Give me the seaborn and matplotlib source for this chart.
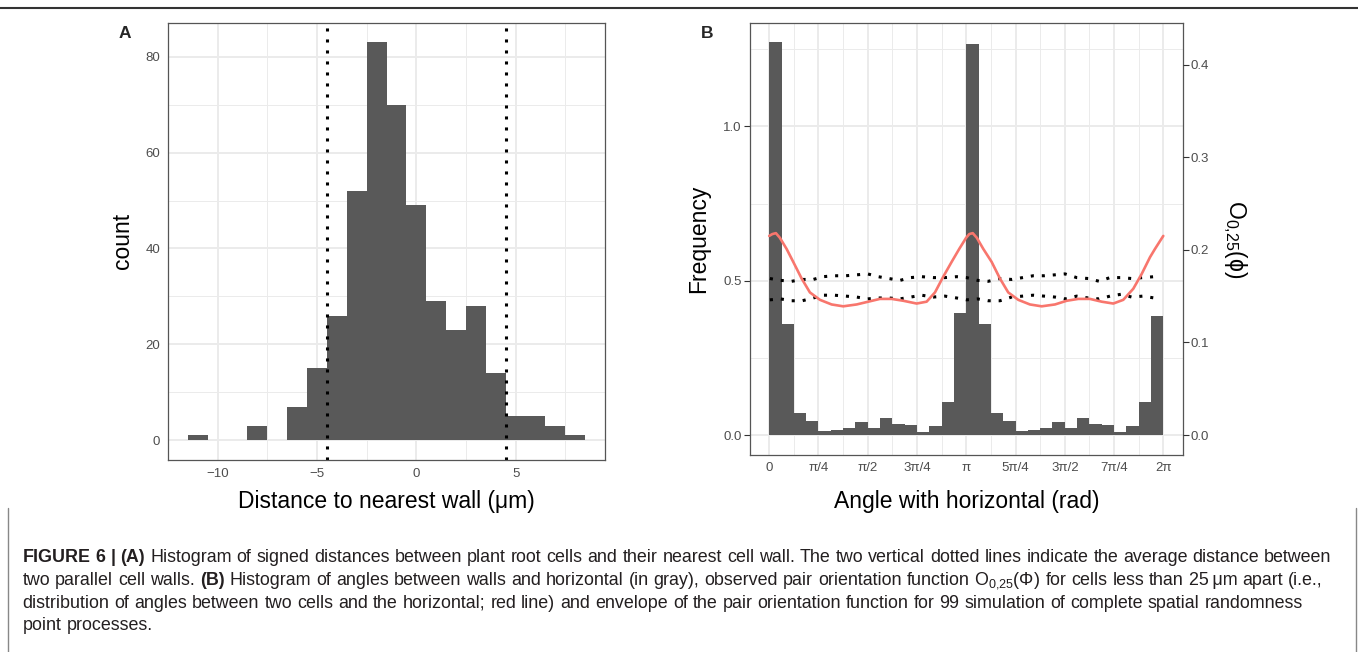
import numpy as np
import pandas as pd
import matplotlib
matplotlib.use("Agg")
import matplotlib.pyplot as plt
import seaborn as sns
from matplotlib.lines import Line2D

# Panel A: signed distance to nearest wall, unit bins centred on integers
dist_centres = [-11, -10, -9, -8, -7, -6, -5, -4, -3, -2, -1, 0, 1, 2, 3, 4, 5, 6, 7, 8]
dist_counts = [1, 0, 0, 3, 0, 7, 15, 26, 52, 83, 70, 49, 29, 23, 28, 14, 5, 5, 3, 1]
wall_spacing = [-4.52, 4.52]

# Panel B: wall angle histogram (32 bins over 0..2pi)
wall_freq = [1.272, 0.359, 0.072, 0.045, 0.013, 0.015, 0.024, 0.042,
             0.023, 0.055, 0.036, 0.032, 0.011, 0.028, 0.108, 0.394,
             1.267, 0.359, 0.072, 0.045, 0.013, 0.015, 0.024, 0.042,
             0.023, 0.055, 0.036, 0.032, 0.011, 0.028, 0.108, 0.387]

# observed pair orientation function O_0,25 (right axis units)
pof_angle = [0.000, 0.050, 0.107, 0.170, 0.277, 0.383, 0.517, 0.649, 0.809, 0.995,
             1.180, 1.394, 1.579, 1.765, 1.952, 2.137, 2.351, 2.510, 2.643, 2.775,
             2.909, 3.030, 3.140, 3.190, 3.245, 3.310, 3.413, 3.546, 3.679, 3.811,
             3.971, 4.157, 4.344, 4.556, 4.743, 4.928, 5.114, 5.301, 5.486, 5.645,
             5.805, 5.939, 6.071, 6.151, 6.283]
pof_value = [0.215, 0.217, 0.218, 0.213, 0.201, 0.187, 0.169, 0.154, 0.146, 0.141,
             0.139, 0.141, 0.144, 0.147, 0.147, 0.145, 0.142, 0.144, 0.154, 0.171,
             0.187, 0.201, 0.213, 0.217, 0.218, 0.213, 0.201, 0.187, 0.169, 0.154,
             0.146, 0.141, 0.139, 0.141, 0.145, 0.147, 0.147, 0.144, 0.142, 0.146,
             0.158, 0.174, 0.192, 0.201, 0.215]

# CSR simulation envelope
env_angle = [0.011, 0.181, 0.357, 0.527, 0.702, 0.861, 1.037, 1.223, 1.394, 1.569,
             1.738, 1.909, 2.084, 2.255, 2.430, 2.615, 2.802, 2.988, 3.148, 3.323,
             3.492, 3.679, 3.866, 4.041, 4.210, 4.385, 4.556, 4.716, 4.902, 5.087,
             5.262, 5.433, 5.609, 5.779, 5.955, 6.140]
env_upper = [0.169, 0.167, 0.166, 0.168, 0.168, 0.171, 0.172, 0.172, 0.173, 0.174,
             0.171, 0.169, 0.167, 0.170, 0.171, 0.170, 0.170, 0.171, 0.170, 0.167,
             0.166, 0.169, 0.168, 0.170, 0.172, 0.172, 0.173, 0.174, 0.170, 0.169,
             0.166, 0.170, 0.170, 0.169, 0.170, 0.171]
env_lower = [0.146, 0.147, 0.145, 0.145, 0.148, 0.151, 0.151, 0.150, 0.149, 0.147,
             0.148, 0.148, 0.147, 0.149, 0.151, 0.149, 0.150, 0.148, 0.146, 0.147,
             0.145, 0.145, 0.149, 0.150, 0.151, 0.150, 0.149, 0.147, 0.150, 0.148,
             0.147, 0.150, 0.152, 0.149, 0.150, 0.148]

pi_labels = ["0", "π/4", "π/2", "3π/4", "π", "5π/4", "3π/2", "7π/4", "2π"]

W, H = 1358, 652
BAR = "#595959"
GRID = "#EBEBEB"
TXT = "#4D4D4D"

sns.set_theme(style="white")
plt.rcParams["font.family"] = ["Liberation Sans", "DejaVu Sans"]
plt.rcParams["mathtext.fontset"] = "custom"
plt.rcParams["mathtext.rm"] = "Liberation Sans"
plt.rcParams["mathtext.it"] = "Liberation Sans:italic"

fig = plt.figure(figsize=(W / 100, H / 100), dpi=100, facecolor="white")


def px_axes(l, t, r, b):
    return fig.add_axes([l / W, 1 - b / H, (r - l) / W, (b - t) / H])


def style_axes(ax):
    ax.set_axisbelow(True)
    ax.grid(True, which="major", color=GRID, lw=1.4)
    ax.grid(True, which="minor", color=GRID, lw=0.7)
    for s in ax.spines.values():
        s.set_color("#555555")
        s.set_linewidth(0.9)
    ax.tick_params(which="major", length=4, width=0.8, color="#333333",
                   labelcolor=TXT, labelsize=9.5, pad=1.5)
    ax.tick_params(which="minor", length=0)


# ---- A ----
dist_df = pd.DataFrame({"dist": dist_centres, "n": dist_counts})
axA = px_axes(168, 22.5, 605, 460)
sns.histplot(data=dist_df, x="dist", weights="n",
             bins=[b - 0.5 for b in range(-11, 10)],
             color=BAR, alpha=1, linewidth=0, ax=axA)
for v in wall_spacing:
    axA.axvline(v, color="black", lw=2.2, linestyle=(0, (1, 2.6)))
axA.set_xlim(-12.5, 9.5)
axA.set_ylim(-4.15, 87.15)
axA.set_xticks([-10, -5, 0, 5])
axA.set_xticks([-7.5, -2.5, 2.5, 7.5], minor=True)
axA.set_yticks([0, 20, 40, 60, 80])
axA.set_yticks([10, 30, 50, 70], minor=True)
style_axes(axA)
axA.set_xlabel("Distance to nearest wall (μm)", fontsize=16.5, color="black")
axA.set_ylabel("count", fontsize=16.5, color="black")
axA.xaxis.set_label_coords(0.5, (460 - 501.5) / 437.5)
axA.xaxis.label.set_va("center")
axA.yaxis.set_label_coords((122 - 168) / 437, 0.5)
axA.yaxis.label.set_va("center")

# ---- B ----
edges = [k * np.pi / 16 for k in range(33)]
ang_df = pd.DataFrame({"angle": [(k + 0.5) * np.pi / 16 for k in range(32)],
                       "freq": wall_freq})
axB = px_axes(749.5, 22.7, 1183, 454.7)
sns.histplot(data=ang_df, x="angle", weights="freq", bins=edges,
             color=BAR, alpha=1, linewidth=0, ax=axB)
top = max(wall_freq)
axB.set_xlim(-0.1 * np.pi, 2.1 * np.pi)
axB.set_ylim(-0.05 * top, 1.05 * top)
axB.set_xticks(np.arange(9) * np.pi / 4)
axB.set_xticklabels(pi_labels)
axB.set_xticks(np.arange(1, 16, 2) * np.pi / 8, minor=True)
axB.set_yticks([0, 0.5, 1.0])
axB.set_yticklabels(["0.0", "0.5", "1.0"])
axB.set_yticks([0.25, 0.75, 1.25], minor=True)
style_axes(axB)
axB.set_xlabel("Angle with horizontal (rad)", fontsize=16.5, color="black")
axB.set_ylabel("Frequency", fontsize=16.5, color="black")
axB.xaxis.set_label_coords(0.5, (454.7 - 501.5) / 432)
axB.xaxis.label.set_va("center")
axB.yaxis.set_label_coords((699 - 749.5) / 433.5, 0.5)
axB.yaxis.label.set_va("center")

ax2 = axB.twinx()
lo, hi = axB.get_ylim()
ax2.set_ylim(lo / 3, hi / 3)
sns.lineplot(x=env_angle, y=env_upper, ax=ax2, color="black", lw=2.2,
             linestyle=(0, (1, 2.6)))
sns.lineplot(x=env_angle, y=env_lower, ax=ax2, color="black", lw=2.2,
             linestyle=(0, (1, 2.6)))
sns.lineplot(x=pof_angle, y=pof_value, ax=ax2, color="#F8766D", lw=1.9)
ax2.set_yticks([0, 0.1, 0.2, 0.3, 0.4])
ax2.set_yticklabels(["0.0", "0.1", "0.2", "0.3", "0.4"])
ax2.grid(False)
for s in ax2.spines.values():
    s.set_visible(False)
ax2.tick_params(axis="y", length=4, width=0.8, color="#333333",
                labelcolor=TXT, labelsize=9.5, pad=1.5)
ax2.set_ylabel(r"$\mathregular{O_{0{,}25}(\phi)}$", fontsize=16.5, rotation=270,
               color="black")
ax2.yaxis.set_label_coords((1235 - 749.5) / 433.5, 0.5)
ax2.yaxis.label.set_va("center")

# panel letters
fig.text(125 / W, 1 - 33 / H, "A", fontsize=12.5, fontweight="bold",
         ha="center", va="center")
fig.text(707 / W, 1 - 33 / H, "B", fontsize=12.5, fontweight="bold",
         ha="center", va="center")

# top rule and caption box
fig.add_artist(Line2D([0, 1], [1 - 8 / H] * 2, color="#333333", lw=1.5))
for xb in (8, 1355.5):
    fig.add_artist(Line2D([xb / W] * 2, [0, 1 - 508 / H], color="#888888", lw=1))

caption = [
    "**FIGURE 6 | (A)** Histogram of signed distances between plant root cells and their "
    "nearest cell wall. The two vertical dotted lines indicate the average distance between",
    "two parallel cell walls. **(B)** Histogram of angles between walls and horizontal "
    "(in gray), observed pair orientation function O$_{0{,}25}$(Φ) for cells less than "
    "25\u2009μm apart (i.e.,",
    "distribution of angles between two cells and the horizontal; red line) and envelope "
    "of the pair orientation function for 99 simulation of complete spatial randomness",
    "point processes.",
]
cap_y = [558, 580.5, 603, 625]
x_left, x_right = 22.5, 1336.7
renderer = fig.canvas.get_renderer()

lines = []
for line, yc in zip(caption, cap_y):
    words = []
    bold = False
    for chunk in line.split("**"):
        for w in chunk.split(" "):
            if w:
                words.append((w, bold))
        bold = not bold
    texts = [fig.text(0, 1 - yc / H, w, fontsize=12, color="#231F20",
                      fontweight="bold" if b else "normal", ha="left", va="center")
             for w, b in words]
    lines.append(texts)


def measure(texts, fs):
    for t in texts:
        t.set_fontsize(fs)
    probe = fig.text(0, 0, "a a", fontsize=fs)
    probe2 = fig.text(0, 0, "aa", fontsize=fs)
    sp = probe.get_window_extent(renderer).width - probe2.get_window_extent(renderer).width
    probe.remove()
    probe2.remove()
    return [t.get_window_extent(renderer).width for t in texts], sp


w0, sp0 = measure(lines[0], 12)
fs = 12 * (x_right - x_left) / (sum(w0) + sp0 * (len(w0) - 1))
for texts in lines:
    widths, sp = measure(texts, fs)
    x = x_left
    for t, w in zip(texts, widths):
        t.set_x(x / W)
        x += w + sp

fig.savefig("out.png", dpi=100, facecolor="white")
